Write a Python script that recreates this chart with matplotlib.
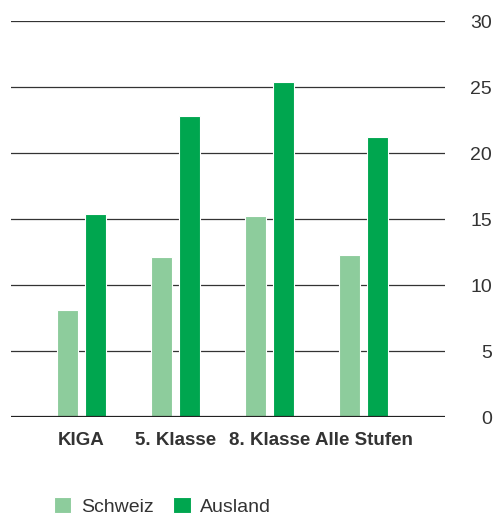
import matplotlib.pyplot as plt
import numpy as np

plt.rcParams['font.family'] = ['Liberation Sans', 'DejaVu Sans']

stufen = ['KIGA', '5. Klasse', '8. Klasse', 'Alle Stufen']
schweiz = [8.1, 12.1, 15.2, 12.3]
ausland = [15.4, 22.8, 25.4, 21.2]
series = ['Schweiz', 'Ausland']
farben = ['#8dcc9c', '#00a64f']
yticks = [0, 5, 10, 15, 20, 25, 30]

fig = plt.figure(figsize=(4.94, 5.17), dpi=100)
ax = fig.add_axes([11 / 494, 100 / 517, 434 / 494, 396 / 517])

x = np.arange(len(stufen))
width = 0.225
off = 0.149
ax.bar(x - off, schweiz, width, color=farben[0], edgecolor='white', linewidth=0.8,
       label=series[0], zorder=3)
ax.bar(x + off, ausland, width, color=farben[1], edgecolor='white', linewidth=0.8,
       label=series[1], zorder=3)

# horizontal grid lines, heavier base line
for v in yticks[1:]:
    ax.axhline(v, color='#333333', linewidth=0.9, zorder=1)
ax.axhline(0, color='#222222', linewidth=1.6, zorder=4)

ax.set_xlim(-0.75, 3.867)
ax.set_ylim(0, 30)
for s in ax.spines.values():
    s.set_visible(False)

ax.yaxis.tick_right()
ax.set_yticks(yticks)
ax.set_yticklabels([str(v) for v in yticks], fontsize=14, color='#333333', ha='right')
ax.tick_params(axis='y', length=0, pad=34)
ax.set_xticks(x)
ax.set_xticklabels(stufen, fontsize=13.5, fontweight='bold', color='#333333')
ax.tick_params(axis='x', length=0, pad=11)

fig.legend(loc='upper left', bbox_to_anchor=(44 / 494, 30 / 517), ncol=2,
           frameon=False, fontsize=14, borderpad=0, handlelength=0.9,
           handleheight=0.9, handletextpad=0.5, columnspacing=1.0,
           labelcolor='#333333')

fig.savefig('out.png', dpi=100)
